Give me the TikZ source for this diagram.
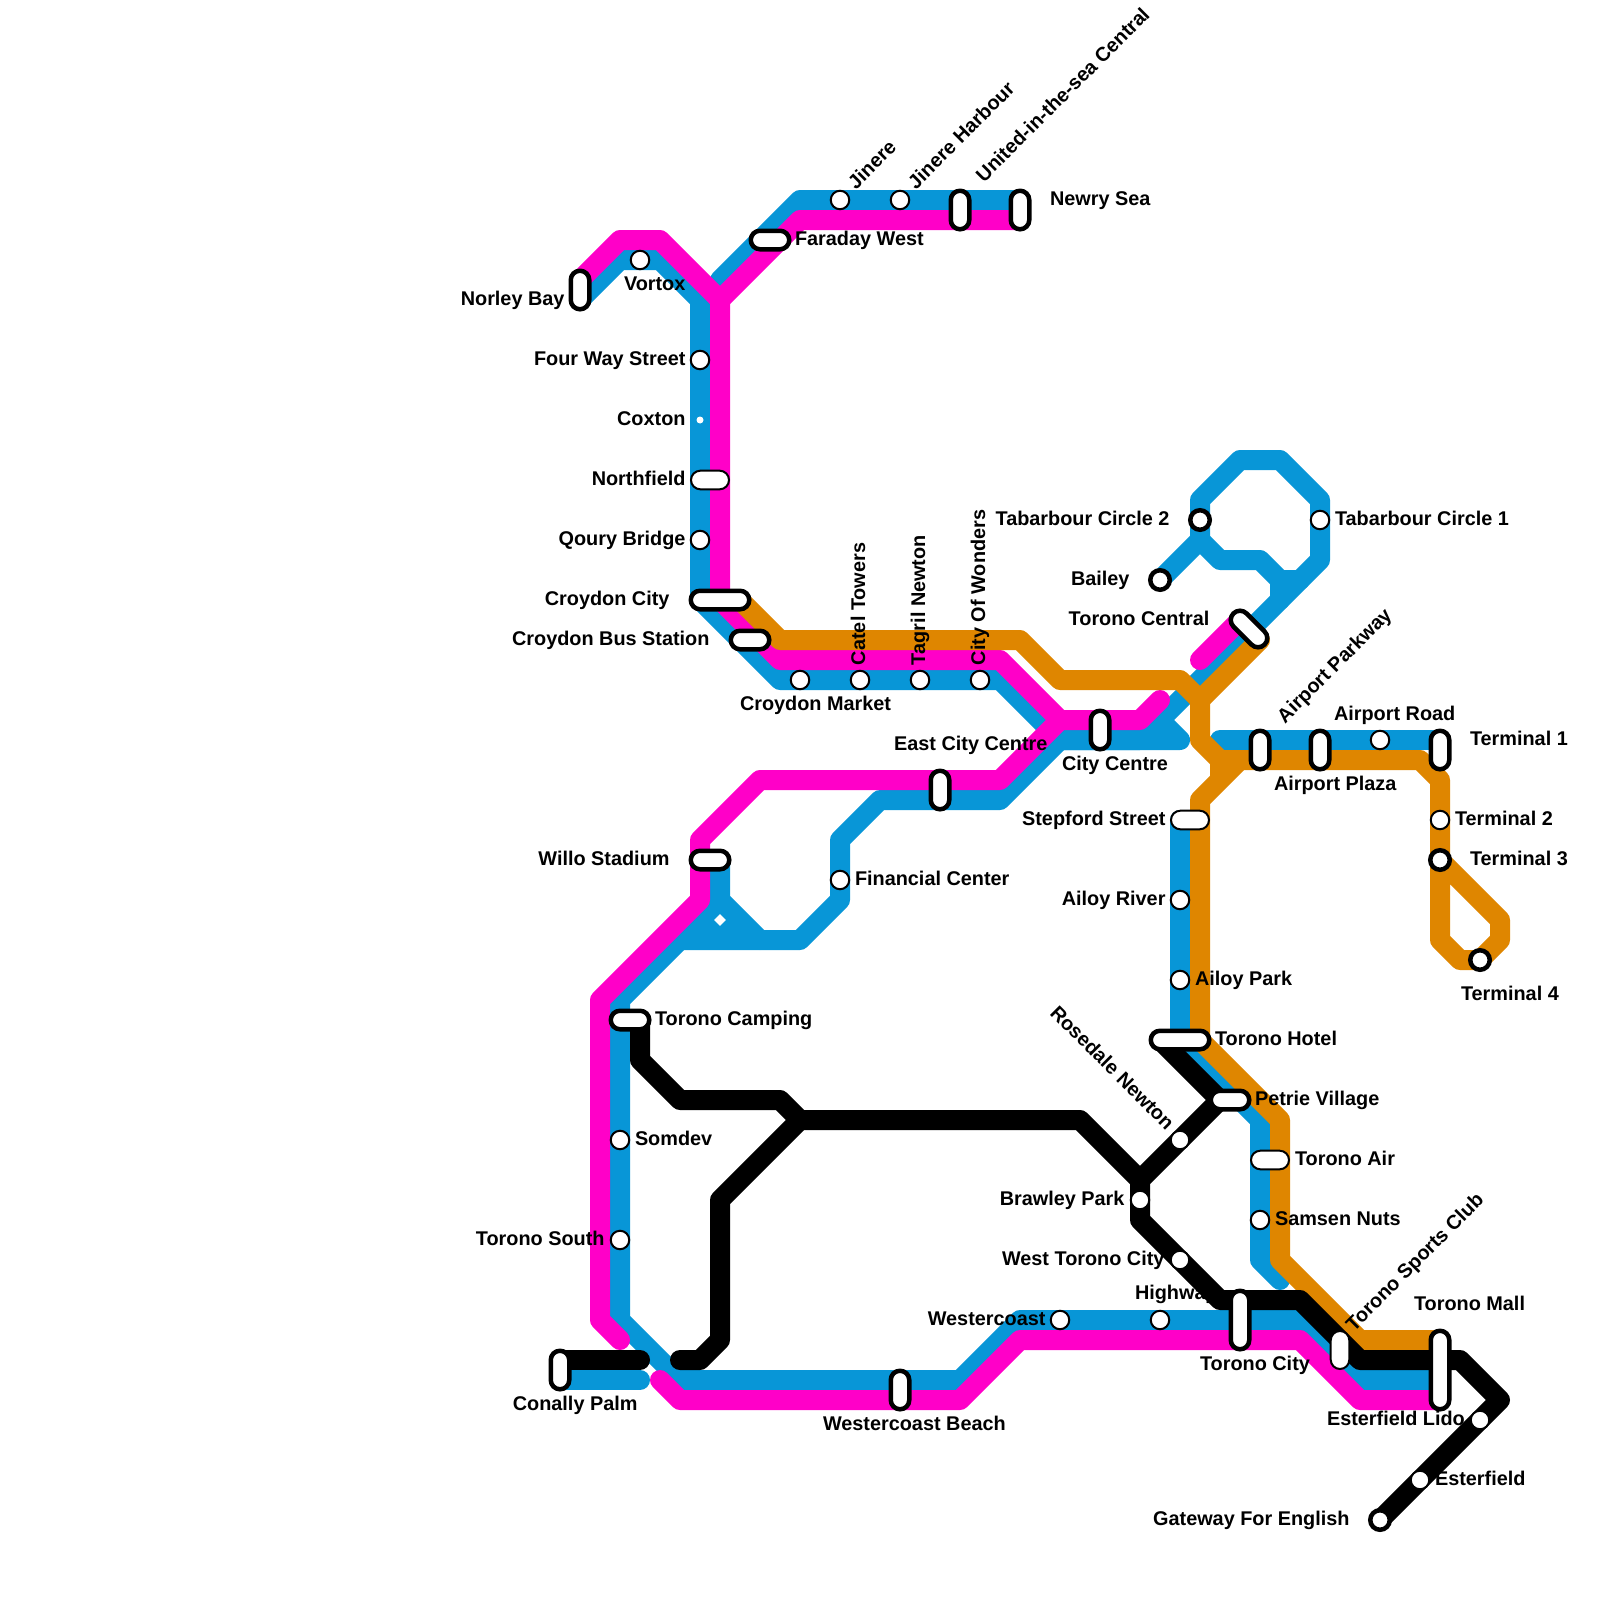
\documentclass[tikz,border=0pt]{standalone}
\usepackage{fontspec}
\usetikzlibrary{shapes.geometric}
\setmainfont{Liberation Sans}
\definecolor{lineblue}{HTML}{0896D7}
\definecolor{linemag}{HTML}{FF00C8}
\definecolor{lineorange}{HTML}{DF8600}
\tikzset{
  metro/.style={line width=20pt,line join=round,line cap=round},
  blueline/.style={metro,draw=lineblue},
  magline/.style={metro,draw=linemag},
  orangeline/.style={metro,draw=lineorange},
  blackline/.style={metro,draw=black},
  stationbase/.style={draw=black,fill=white,inner sep=0pt,outer sep=0pt},
  stn/.style={stationbase,circle,line width=2pt,minimum size=18.5pt},
  stnthick/.style={stationbase,circle,line width=4.5pt,minimum size=19.5pt},
  pillthick/.style={stationbase,rectangle,rounded corners=9.2pt,line width=4.5pt,minimum height=18.5pt,minimum width=#1},
  pillthick/.default=38.5pt,
  pillthin/.style={stationbase,rectangle,rounded corners=9.3pt,line width=2pt,minimum height=18.6pt,minimum width=38pt},
  lbl/.style={font=\bfseries\fontsize{19.85}{24}\selectfont,inner sep=0pt,outer sep=0pt,text=black},
  lw/.style={lbl,anchor=base west,xshift=-1pt},
  le/.style={lbl,anchor=base east,xshift=0.5pt},
  lr/.style={lbl,anchor=base west},
}
\begin{document}
\begin{tikzpicture}[x=1pt,y=-1pt]
\useasboundingbox (0,0) rectangle (1600,1600);
% line termini
\coordinate (bNorley) at (580,300);
\coordinate (bJunc) at (720,280);
\coordinate (bNewry) at (1020,200);
\coordinate (bCity) at (1160,720);
\coordinate (bBailey) at (1160,580);
\coordinate (bFork) at (1200,540);
\coordinate (bTab) at (1280,580);
\coordinate (bMerge) at (1280,600);
\coordinate (bCentre) at (1060,740);
\coordinate (bWillo) at (720,860);
\coordinate (bTri) at (720,900);
\coordinate (bTriR) at (760,940);
\coordinate (bMall) at (1440,1380);
\coordinate (bConA) at (560,1380);
\coordinate (bConB) at (640,1380);
\coordinate (bAirL) at (1220,740);
\coordinate (bAirR) at (1440,740);
\coordinate (bStep) at (1180,820);
\coordinate (bEnd) at (1280,1280);
\coordinate (mNorley) at (580,280);
\coordinate (mNewry) at (1020,220);
\coordinate (mJunc) at (720,300);
\coordinate (mCross) at (1060,720);
\coordinate (mEnd) at (1160,700);
\coordinate (mWillo) at (700,840);
\coordinate (mSouth) at (620,1340);
\coordinate (mStart) at (660,1380);
\coordinate (mMall) at (1440,1400);
\coordinate (mCentA) at (1200,660);
\coordinate (mCentB) at (1240,620);
\coordinate (oCroy) at (740,600);
\coordinate (oFork) at (1200,700);
\coordinate (oCent) at (1260,640);
\coordinate (oMid) at (1220,760);
\coordinate (oTerm) at (1440,860);
\coordinate (oStep) at (1240,760);
\coordinate (oMall) at (1440,1340);
\coordinate (kCamp) at (640,1020);
\coordinate (kHub) at (800,1120);
\coordinate (kBrawley) at (1140,1180);
\coordinate (kStub) at (680,1360);
\coordinate (kConA) at (560,1360);
\coordinate (kConB) at (640,1360);
\coordinate (kHotel) at (1160,1040);
\coordinate (kPetrie) at (1220,1100);
\coordinate (kPetrieB) at (1240,1100);
\coordinate (kGate) at (1380,1520);
% blue
\draw[blueline] (bNorley) -- (620,260) -- (660,260) -- (700,300) -- (700,600) -- (780,680) -- (1000,680) -- (bCentre) -- (1180,740) -- (bCity);
\draw[blueline] (bJunc) -- (800,200) -- (bNewry);
\draw[blueline] (bBailey) -- (bFork) -- (1200,500) -- (1240,460) -- (1280,460) -- (1320,500) -- (1320,560) -- (1140,740) -- (bCentre);
\draw[blueline] (bFork) -- (1220,560) -- (1260,560) -- (bTab) -- (bMerge);
\draw[blueline] (bTab) -- (1300,580);
\draw[blueline] (bCentre) -- (1000,800) -- (880,800) -- (840,840) -- (840,900) -- (800,940) -- (680,940);
\draw[blueline] (bWillo) -- (bTri) -- (bTriR);
\fill[lineblue] (bTri) -- (bTriR) -- (680,940) -- cycle;
\draw[blueline] (bTri) -- (620,1000) -- (620,1320) -- (680,1380) -- (960,1380) -- (1020,1320) -- (1300,1320) -- (1360,1380) -- (bMall);
\draw[blueline] (bConA) -- (bConB);
\draw[blueline] (bAirL) -- (bAirR);
\draw[blueline] (bStep) -- (1180,1040) -- (1260,1120) -- (1260,1260) -- (bEnd);
% magenta
\draw[magline] (mNorley) -- (620,240) -- (660,240) -- (mJunc) -- (720,600) -- (780,660) -- (1000,660) -- (mCross) -- (1140,720) -- (mEnd);
\draw[magline] (mJunc) -- (800,220) -- (mNewry);
\draw[magline] (mCross) -- (1000,780) -- (760,780) -- (mWillo) -- (700,900) -- (600,1000) -- (600,1320) -- (mSouth);
\draw[magline] (mStart) -- (680,1400) -- (960,1400) -- (1020,1340) -- (1300,1340) -- (1360,1400) -- (mMall);
\draw[magline] (mCentA) -- (mCentB);
% orange
\draw[orangeline] (oCroy) -- (780,640) -- (1020,640) -- (1060,680) -- (1180,680) -- (oFork) -- (oCent);
\draw[orangeline] (oFork) -- (1200,740) -- (oMid) -- (1420,760) -- (1440,780) -- (oTerm) -- (1500,920) -- (1500,940) -- (1480,960) -- (1460,960) -- (1440,940) -- (oTerm);
\draw[orangeline] (oMid) -- (1220,775);
\draw[orangeline] (oStep) -- (1200,800) -- (1200,1040) -- (1280,1120) -- (1280,1260) -- (1360,1340) -- (oMall);
% black
\draw[blackline] (kConA) -- (kConB);
\draw[blackline] (kCamp) -- (640,1060) -- (680,1100) -- (780,1100) -- (kHub) -- (1080,1120) -- (kBrawley);
\draw[blackline] (kHub) -- (720,1200) -- (720,1340) -- (700,1360) -- (kStub);
\draw[blackline] (kHotel) -- (kPetrie) -- (kBrawley) -- (1140,1220) -- (1220,1300) -- (1300,1300) -- (1360,1360) -- (1460,1360) -- (1500,1400) -- (kGate);
\draw[blackline] (kPetrie) -- (kPetrieB);
% labels
\node[le] (tNorley) at (564,305) {Norley Bay};
\node[lw] (tVortox) at (625,290) {Vortox};
\node[lw] (tFaraday) at (796,245) {Faraday West};
\node[lr,rotate=45] (tJinere) at (856,190) {Jinere};
\node[lr,rotate=45] (tJinereH) at (916,190) {Jinere Harbour};
\node[lr,rotate=45] (tUnited) at (984,183) {United-in-the-sea Central};
\node[lw] (tNewry) at (1051,205) {Newry Sea};
\node[le] (tFour) at (685,365) {Four Way Street};
\node[le] (tCoxton) at (685,425) {Coxton};
\node[le] (tNorth) at (685,485) {Northfield};
\node[le] (tQoury) at (685,545) {Qoury Bridge};
\node[le] (tCroydon) at (669,605) {Croydon City};
\node[le] (tCroyBus) at (709,645) {Croydon Bus Station};
\node[lw] (tMarket) at (741,710) {Croydon Market};
\node[lr,rotate=90] (tCatel) at (865,665) {Catel Towers};
\node[lr,rotate=90] (tTagril) at (925,665) {Tagril Newton};
\node[lr,rotate=90] (tWonders) at (985,665) {City Of Wonders};
\node[le] (tTab2) at (1169,525) {Tabarbour Circle 2};
\node[lw] (tTab1) at (1336,525) {Tabarbour Circle 1};
\node[le] (tBailey) at (1129,585) {Bailey};
\node[le] (tCentral) at (1209,625) {Torono Central};
\node[lr,rotate=45] (tParkway) at (1285,724) {Airport Parkway};
\node[lw] (tRoad) at (1335,720) {Airport Road};
\node[lw] (tPlaza) at (1275,790) {Airport Plaza};
\node[lw] (tT1) at (1471,745) {Terminal 1};
\node[lw] (tT2) at (1456,825) {Terminal 2};
\node[lw] (tT3) at (1471,865) {Terminal 3};
\node[lw] (tT4) at (1462,1000) {Terminal 4};
\node[lw] (tCity) at (1063,770) {City Centre};
\node[le] (tEast) at (1047,750) {East City Centre};
\node[le] (tStep) at (1165,825) {Stepford Street};
\node[le] (tRiver) at (1165,905) {Ailoy River};
\node[lw] (tPark) at (1196,985) {Ailoy Park};
\node[le] (tWillo) at (669,865) {Willo Stadium};
\node[lw] (tFin) at (856,885) {Financial Center};
\node[lw] (tCamp) at (656,1025) {Torono Camping};
\node[lw] (tSomdev) at (636,1145) {Somdev};
\node[le] (tSouth) at (604,1245) {Torono South};
\node[le] (tConally) at (637,1410) {Conally Palm};
\node[lw] (tBeach) at (824,1430) {Westercoast Beach};
\node[le] (tWestc) at (1045,1325) {Westercoast};
\node[lw] (tHighway) at (1136,1299) {Highway};
\node[lw] (tHotel) at (1216,1045) {Torono Hotel};
\node[lw] (tPetrie) at (1256,1105) {Petrie Village};
\node[lw] (tAir) at (1296,1165) {Torono Air};
\node[lw] (tSamsen) at (1276,1225) {Samsen Nuts};
\node[lr,rotate=-45] (tRose) at (1049,1014) {Rosedale Newton};
\node[le] (tBrawley) at (1124,1205) {Brawley Park};
\node[lw] (tWest) at (1003,1265) {West Torono City};
\node[lw] (tTorCity) at (1201,1370) {Torono City};
\node[lr,rotate=45] (tSports) at (1354,1332) {Torono Sports Club};
\node[lw] (tMall) at (1415,1310) {Torono Mall};
\node[lw] (tLido) at (1328,1425) {Esterfield Lido};
\node[lw] (tEst) at (1436,1485) {Esterfield};
\node[le] (tGate) at (1349,1525) {Gateway For English};
% stations
\node[pillthick,rotate=90] (norley) at (580,290) {};
\node[stn] (vortox) at (640,260) {};
\node[pillthick] (faraday) at (770,240) {};
\node[stn] (jinere) at (840,200) {};
\node[stn] (jinereh) at (900,200) {};
\node[pillthick,rotate=90] (united) at (960,210) {};
\node[pillthick,rotate=90] (newry) at (1020,210) {};
\node[stn] (fourway) at (700,360) {};
\node[circle,fill=white,inner sep=0pt,minimum size=7pt] (coxton) at (700,420) {};
\node[pillthin] (northfield) at (710,480) {};
\node[stn] (qoury) at (700,540) {};
\node[pillthick=58.5pt] (croydon) at (720,600) {};
\node[pillthick] (croybus) at (750,640) {};
\node[stn] (market) at (800,680) {};
\node[stn] (catel) at (860,680) {};
\node[stn] (tagril) at (920,680) {};
\node[stn] (wonders) at (980,680) {};
\node[stnthick] (tab2) at (1200,520) {};
\node[stn] (tab1) at (1320,520) {};
\node[stnthick] (bailey) at (1160,580) {};
\node[pillthick=44pt,rotate=-45] (central) at (1249,629) {};
\node[pillthick,rotate=90] (citycentre) at (1100,730) {};
\node[pillthick,rotate=90] (eastcity) at (940,790) {};
\node[pillthick,rotate=90] (parkway) at (1260,750) {};
\node[pillthick,rotate=90] (plaza) at (1320,750) {};
\node[stn] (airroad) at (1380,740) {};
\node[pillthick,rotate=90] (term1) at (1440,750) {};
\node[stn] (term2) at (1440,820) {};
\node[stnthick] (term3) at (1440,860) {};
\node[stnthick] (term4) at (1480,960) {};
\node[pillthin] (stepford) at (1190,820) {};
\node[stn] (ailoyr) at (1180,900) {};
\node[stn] (ailoyp) at (1180,980) {};
\node[pillthick=58.5pt] (hotel) at (1180,1040) {};
\node[pillthick] (petrie) at (1230,1100) {};
\node[pillthin] (air) at (1270,1160) {};
\node[stn] (samsen) at (1260,1220) {};
\node[stn] (rosedale) at (1180,1140) {};
\node[stn] (brawley) at (1140,1200) {};
\node[stn] (westtor) at (1180,1260) {};
\node[pillthick] (willo) at (710,860) {};
\node[diamond,fill=white,inner sep=0pt,minimum size=12pt] (hubdot) at (720,920) {};
\node[stn] (financial) at (840,880) {};
\node[pillthick] (camping) at (630,1020) {};
\node[stn] (somdev) at (620,1140) {};
\node[stn] (south) at (620,1240) {};
\node[pillthick,rotate=90] (conally) at (560,1370) {};
\node[pillthick,rotate=90] (beach) at (900,1390) {};
\node[stn] (westercoast) at (1060,1320) {};
\node[stn] (highway) at (1160,1320) {};
\node[pillthick=58.5pt,rotate=90] (torcity) at (1240,1320) {};
\node[pillthin,rotate=90] (sports) at (1340,1350) {};
\node[pillthick=78.5pt,rotate=90] (mall) at (1440,1370) {};
\node[stn] (lido) at (1480,1420) {};
\node[stn] (esterfield) at (1420,1480) {};
\node[stnthick] (gateway) at (1380,1520) {};
\end{tikzpicture}
\end{document}
